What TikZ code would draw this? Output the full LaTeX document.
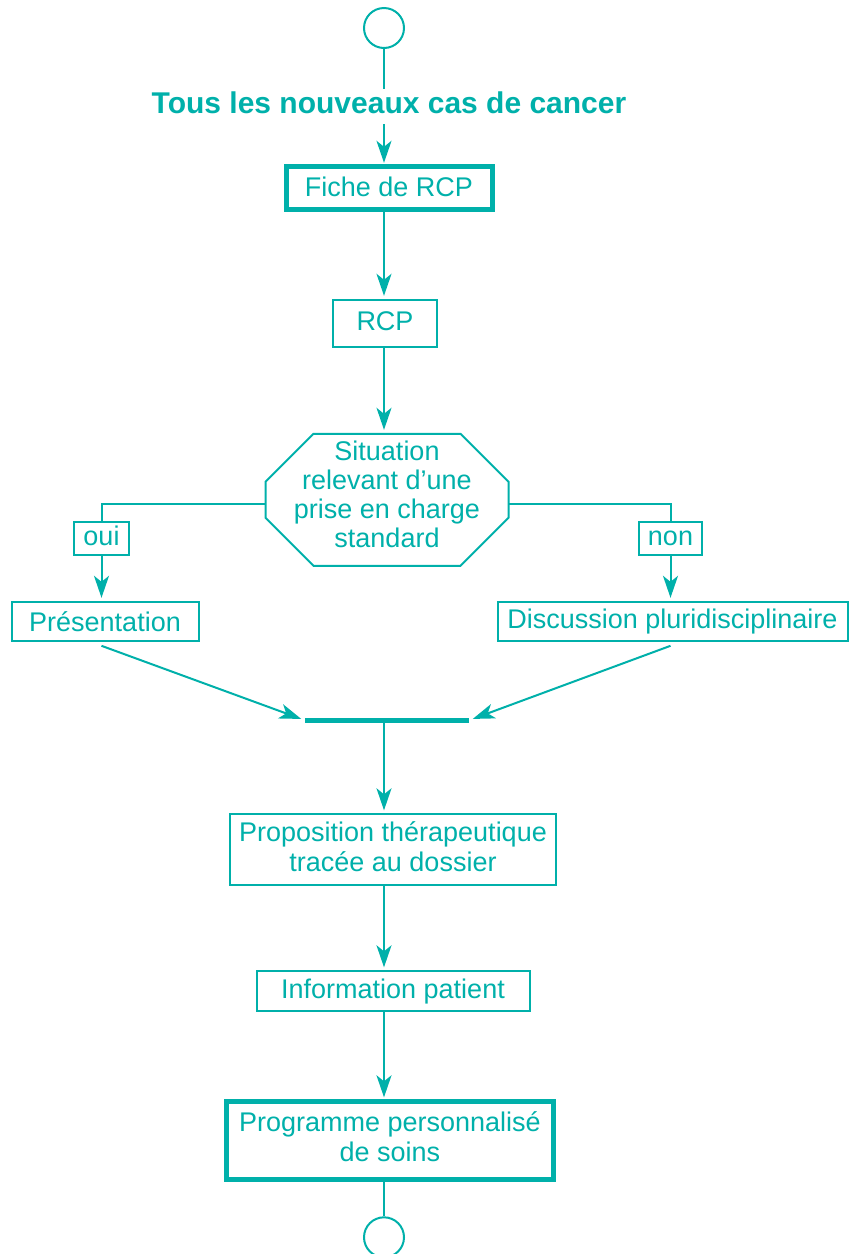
\documentclass[tikz,border=0pt]{standalone}
\usepackage{fontspec}
\setmainfont{Liberation Sans}
\usetikzlibrary{positioning,calc,arrows.meta}
\definecolor{flowteal}{RGB}{0,176,170}
\pgfmathsetmacro{\flowcircle}{20}
\pgfmathsetmacro{\flowcut}{24}
\newcommand{\raisetext}[1]{\rule[-#1]{0pt}{#1}}
\tikzset{
  flowline/.style={draw=flowteal, line width=1pt},
  flowarrow/.style={flowline, -{Stealth[length=11pt,width=7.5pt,inset=3pt]}, shorten >=2pt},
  flowbox/.style={draw=flowteal, line width=1pt, text=flowteal, rectangle, inner sep=0pt,
    outer sep=0pt, align=center, font=\fontsize{13.5}{15}\selectfont},
  keybox/.style={flowbox, line width=2.5pt},
  answer/.style={flowbox, minimum height=16.5pt, inner xsep=4.5pt, text height=10pt, text depth=3pt},
  endpoint/.style={draw=flowteal, line width=1pt, circle, minimum size=\flowcircle pt, inner sep=0pt},
}

\begin{document}
\begin{tikzpicture}
    \useasboundingbox (0,0) rectangle (424pt,-627pt);
    % define nodes
    % start
    \node[endpoint] (start) at (192pt,-14pt) {};
    \node[below=20pt of start, xshift=2.5pt, text=flowteal, inner sep=0pt, text height=12pt,
      text depth=5pt, font=\fontsize{15}{17}\selectfont\bfseries] (cases) {Tous les nouveaux cas de cancer};
    % main column
    \node[keybox, below=21.5pt of cases, minimum width=103pt, minimum height=21.5pt] (sheet) {Fiche de RCP\raisetext{2pt}};
    \node[flowbox, below=45pt of sheet, xshift=-2pt, minimum width=52pt, minimum height=23.5pt] (rcp) {RCP\raisetext{2pt}};
    \node[flowbox, draw=none, below=43.5pt of rcp, xshift=1pt, minimum width=121.5pt, minimum height=66pt,
      font=\fontsize{13.5}{14.5}\selectfont] (situation) {Situation\\relevant d’une\\prise en charge\\standard\raisetext{6pt}};
    % branches
    \coordinate[left=82pt of situation.west, yshift=-2pt] (yesturn);
    \coordinate[right=81pt of situation.east, yshift=-2pt] (noturn);
    \node[answer, below=9pt of yesturn] (yes) {oui};
    \node[answer, below=9pt of noturn] (no) {non};
    \node[flowbox, below=23.5pt of yes, xshift=1.75pt, minimum width=93.5pt, minimum height=19.5pt] (presentation) {Présentation};
    \node[flowbox, below=23.5pt of no, xshift=1pt, minimum width=175pt, minimum height=19.5pt] (discussion) {Discussion pluridisciplinaire};
    % join bar
    \node[below=76pt of situation, fill=flowteal, minimum width=82pt, minimum height=2.5pt,
      inner sep=0pt, outer sep=0pt] (join) {};
    % lower column
    \node[flowbox, below=45.75pt of join, xshift=3pt, minimum width=163pt, minimum height=35.5pt] (proposal) {Proposition thérapeutique\\tracée au dossier\raisetext{3pt}};
    \node[flowbox, below=43pt of proposal, minimum width=136.5pt, minimum height=20pt] (information) {Information patient};
    \node[keybox, below=45pt of information, xshift=-1.5pt, minimum width=163.5pt, minimum height=39pt] (programme) {Programme personnalisé\\de soins\raisetext{4pt}};
    \node[endpoint, below=18.5pt of programme, xshift=-3pt] (stop) {};
    % draw octagon
    \draw[flowline] ($(situation.north west)+(\flowcut pt,0)$) -- ($(situation.north east)+(-\flowcut pt,0)$)
      -- ($(situation.north east)+(0,-\flowcut pt)$) -- ($(situation.south east)+(0,\flowcut pt)$)
      -- ($(situation.south east)+(-\flowcut pt,0)$) -- ($(situation.south west)+(\flowcut pt,0)$)
      -- ($(situation.south west)+(0,\flowcut pt)$) -- ($(situation.north west)+(0,-\flowcut pt)$) -- cycle;
    % draw arrows
    \draw[flowline] (start) -- (start |- cases.north);
    \draw[flowarrow] (start |- cases.south) -- (start |- sheet.north);
    \draw[flowarrow] (start |- sheet.south) -- (start |- rcp.north);
    \draw[flowarrow] (start |- rcp.south) -- (start |- situation.north);
    \draw[flowline] (situation.west |- yesturn) -- (yesturn) -- (yes);
    \draw[flowline] (situation.east |- noturn) -- (noturn) -- (no);
    \draw[flowarrow] (yes) -- (yes |- presentation.north);
    \draw[flowarrow] (no) -- (no |- discussion.north);
    \draw[flowarrow] ($(yes |- presentation.south)+(0,-2.5pt)$) -- (join.west);
    \draw[flowarrow] ($(no |- discussion.south)+(0,-2.5pt)$) -- (join.east);
    \draw[flowarrow] (start |- join.south) -- (start |- proposal.north);
    \draw[flowarrow] (start |- proposal.south) -- (start |- information.north);
    \draw[flowarrow] (start |- information.south) -- (start |- programme.north);
    \draw[flowline] (start |- programme.south) -- (stop);
\end{tikzpicture}
\end{document}
